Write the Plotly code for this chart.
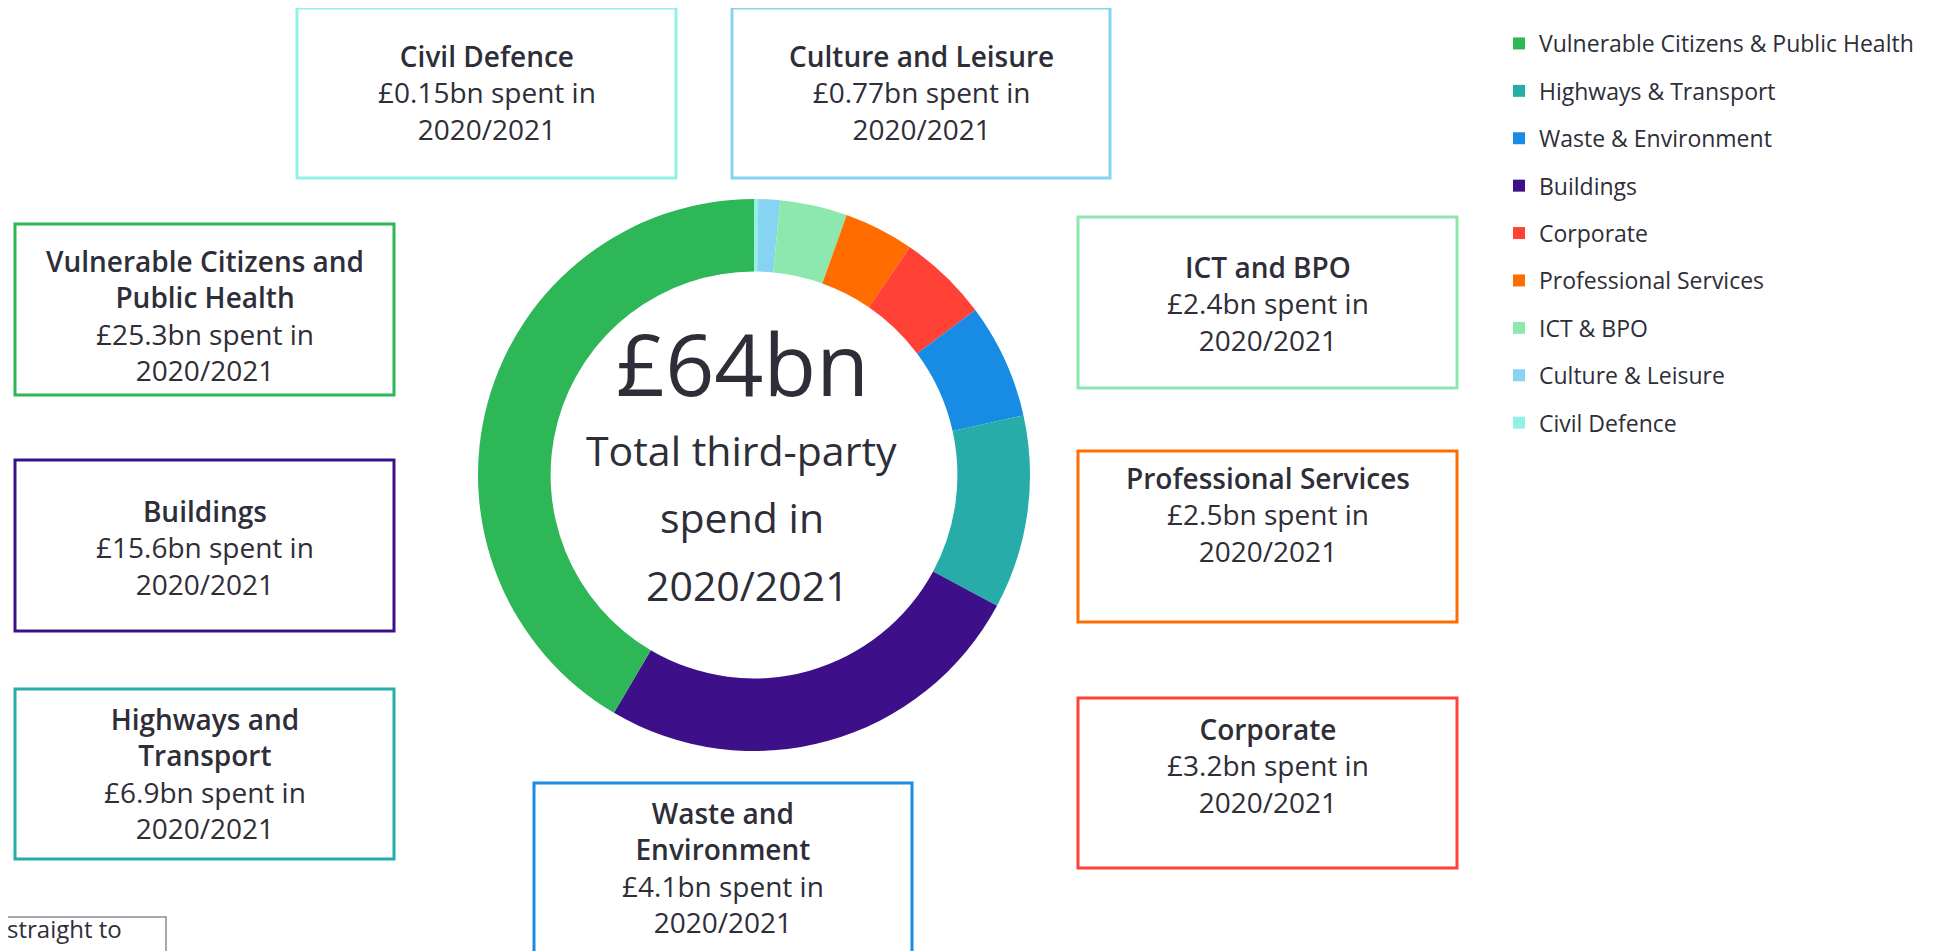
import plotly.graph_objects as go

# ---------------- data ----------------
categories = ["Vulnerable Citizens & Public Health", "Highways & Transport", "Waste & Environment",
              "Buildings", "Corporate", "Professional Services", "ICT & BPO",
              "Culture & Leisure", "Civil Defence"]
spend_bn = [25.3, 6.9, 4.1, 15.6, 3.2, 2.5, 2.4, 0.77, 0.15]
spend_text = ["£25.3bn", "£6.9bn", "£4.1bn", "£15.6bn", "£3.2bn", "£2.5bn", "£2.4bn", "£0.77bn", "£0.15bn"]
box_titles = ["Vulnerable Citizens and<br>Public Health", "Highways and<br>Transport", "Waste and<br>Environment",
              "Buildings", "Corporate", "Professional Services", "ICT and BPO",
              "Culture and Leisure", "Civil Defence"]
colors = ["#2DB757", "#27ACAA", "#188CE5", "#3D108A", "#FF4136", "#FF6D00", "#8CE8AD", "#87D3F2", "#93F0E6"]
slice_order = ["Civil Defence", "Culture & Leisure", "ICT & BPO", "Professional Services", "Corporate",
               "Waste & Environment", "Highways & Transport", "Buildings",
               "Vulnerable Citizens & Public Health"]
year_label = "2020/2021"
total_label = "£64bn"
centre_lines = ["Total third-party", "spend in", "2020/2021"]

# ---------------- layout helpers ----------------
W, H = 1948, 951
OFF = 8  # page body margin
TXT = "#2E2E38"
FONT = "Open Sans"

def px(x):
    return (x - OFF) / W

def py(y):
    return 1 - (y - OFF) / H

# box rectangles (pixel coords: x0, y0, x1, y1) and text-centre y, keyed by category
box_geom = {
    "Vulnerable Citizens & Public Health": (15, 224, 394, 395, 315),
    "Highways & Transport": (15, 689, 394, 859, 773),
    "Waste & Environment": (534, 783, 912, 965, 867),
    "Buildings": (15, 460, 394, 631, 547),
    "Corporate": (1078, 698, 1457, 868, 765),
    "Professional Services": (1078, 451, 1457, 622, 514),
    "ICT & BPO": (1078, 217, 1457, 388, 303),
    "Culture & Leisure": (732, 8, 1110, 178, 92),
    "Civil Defence": (297, 8, 676, 178, 92),
}

fig = go.Figure()

# legend entries (one per category, in legend order)
for name, val, col in zip(categories, spend_bn, colors):
    fig.add_trace(go.Pie(
        labels=[name], values=[val], marker=dict(colors=[col]),
        legendgroup=name, showlegend=True, textinfo="none", hoverinfo="skip",
        domain=dict(x=[0, 0.00001], y=[0, 0.00001]),
    ))

# the doughnut itself
color_of = dict(zip(categories, colors))
value_of = dict(zip(categories, spend_bn))
cx, cy, r = 754, 475, 276
fig.add_trace(go.Pie(
    labels=slice_order,
    values=[value_of[c] for c in slice_order],
    marker=dict(colors=[color_of[c] for c in slice_order], line=dict(width=0)),
    sort=False, direction="clockwise", rotation=0, hole=0.737,
    textinfo="none", showlegend=False,
    domain=dict(x=[px(cx - r), px(cx + r)], y=[py(cy + r), py(cy - r)]),
))

shapes = []
annotations = []
for name, title, val_txt, col in zip(categories, box_titles, spend_text, colors):
    x0, y0, x1, y1, ty = box_geom[name]
    shapes.append(dict(type="rect", xref="paper", yref="paper",
                       x0=px(x0), x1=px(x1), y0=py(y1), y1=py(y0),
                       line=dict(color=col, width=3), fillcolor="rgba(0,0,0,0)"))
    annotations.append(dict(
        xref="paper", yref="paper", x=px((x0 + x1) / 2), y=py(ty),
        xanchor="center", yanchor="middle", align="center", showarrow=False,
        text=f"<span style='font-weight:600'>{title}</span><br>{val_txt} spent in<br>{year_label}",
        font=dict(family=FONT, size=28, color=TXT),
    ))

# centre text
annotations.append(dict(xref="paper", yref="paper", x=px(742), y=py(362), showarrow=False,
                        xanchor="center", yanchor="middle", text=total_label,
                        font=dict(family=FONT, size=86, color=TXT)))
for line, xx, yy in zip(centre_lines, [741, 742, 747], [450, 517, 585]):
    annotations.append(dict(xref="paper", yref="paper", x=px(xx), y=py(yy), showarrow=False,
                            xanchor="center", yanchor="middle",
                            text=line, font=dict(family=FONT, size=41, color=TXT)))

# partially visible skip-link box at the bottom-left
shapes.append(dict(type="rect", xref="paper", yref="paper",
                   x0=px(-20), x1=px(166), y0=py(980), y1=py(917),
                   line=dict(color="#8A8A94", width=1.5), fillcolor="rgba(0,0,0,0)"))
annotations.append(dict(xref="paper", yref="paper", x=px(5), y=py(947), showarrow=False,
                        xanchor="left", yanchor="bottom", text="straight to",
                        font=dict(family=FONT, size=24, color=TXT)))

fig.update_layout(
    width=W, height=H,
    margin=dict(l=0, r=0, t=0, b=0),
    paper_bgcolor="white", plot_bgcolor="white",
    shapes=shapes, annotations=annotations,
    legend=dict(x=px(1499), y=py(22), xanchor="left", yanchor="top",
                traceorder="grouped", tracegroupgap=14.5,
                font=dict(family=FONT, size=23, color=TXT),
                itemclick=False, itemdoubleclick=False),
)

fig.write_html("out.html")
